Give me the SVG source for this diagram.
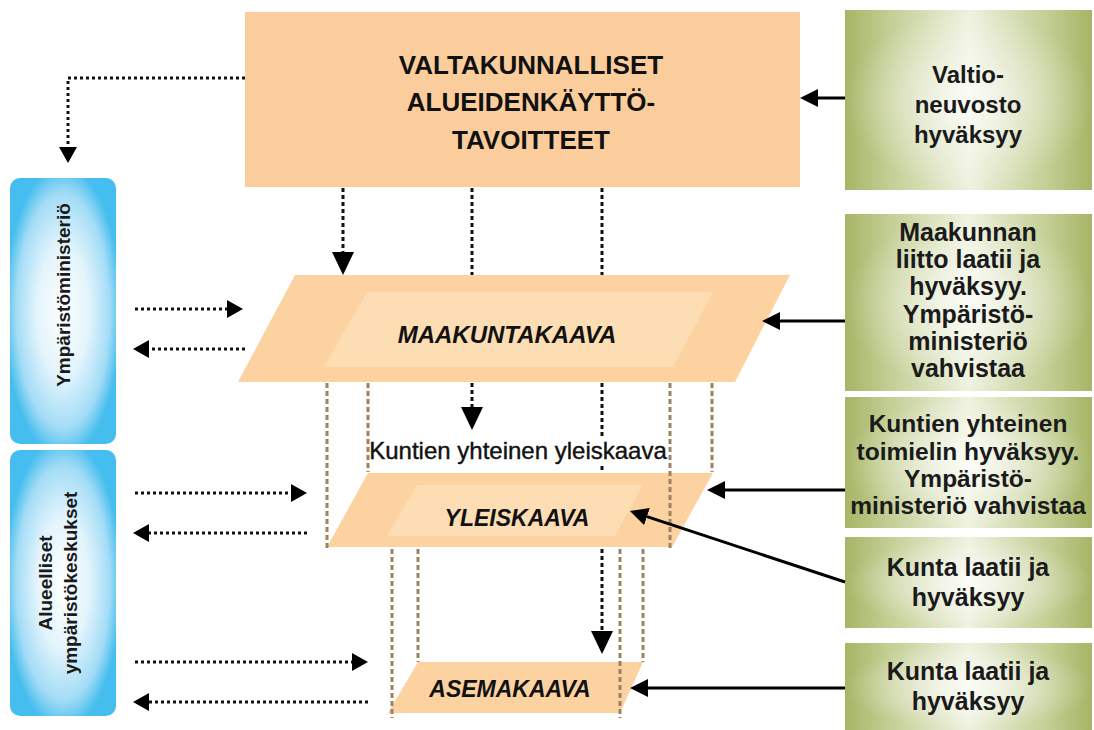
<svg xmlns="http://www.w3.org/2000/svg" width="1094" height="730" viewBox="0 0 1094 730">
<defs>
<style>
.title{font-family:"Liberation Sans",Arial,sans-serif;font-weight:bold;font-size:26px;fill:#111;text-anchor:middle}
.gt{font-family:"Liberation Sans",Arial,sans-serif;font-weight:bold;font-size:25px;fill:#1a1a1a;text-anchor:middle}
.bt{font-family:"Liberation Sans",Arial,sans-serif;font-weight:bold;font-size:19px;fill:#1a1a1a;text-anchor:middle}
.it{font-family:"Liberation Sans",Arial,sans-serif;font-weight:bold;font-style:italic;font-size:23px;fill:#111;text-anchor:middle}
.lbl{font-family:"Liberation Sans",Arial,sans-serif;font-size:24px;fill:#111;stroke:#111;stroke-width:0.4;text-anchor:middle}
.outer{fill:#FCD2A1}
.inner{fill:#FDDDB3}
.dot{fill:none;stroke:#111;stroke-width:3;stroke-dasharray:3 3}
.vdot{fill:none;stroke:#111;stroke-width:3;stroke-dasharray:4 3}
.solid{fill:none;stroke:#000;stroke-width:3}
.brown{fill:none;stroke:#9C8260;stroke-width:3;stroke-dasharray:5 3}
</style>
<linearGradient id="gLin" x1="0" y1="0" x2="1" y2="0">
<stop offset="0" stop-color="#A6B566"/>
<stop offset="0.18" stop-color="#C3CE94"/>
<stop offset="0.5" stop-color="#EEF2DF"/>
<stop offset="0.82" stop-color="#C3CE94"/>
<stop offset="1" stop-color="#A6B566"/>
</linearGradient>
<radialGradient id="gRad" cx="0.5" cy="0.5" r="0.5">
<stop offset="0" stop-color="#FFFFFF" stop-opacity="0.75"/>
<stop offset="1" stop-color="#FFFFFF" stop-opacity="0"/>
</radialGradient>
<radialGradient id="bRad" cx="0.5" cy="0.5" r="0.55">
<stop offset="0" stop-color="#FFFFFF"/>
<stop offset="0.45" stop-color="#E2F4FC"/>
<stop offset="0.8" stop-color="#A3DCF6"/>
<stop offset="1" stop-color="#45BDEE"/>
</radialGradient>
<marker id="aSolid" markerUnits="userSpaceOnUse" markerWidth="18" markerHeight="18" refX="0" refY="9" orient="auto">
<path d="M0,0 L18,9 L0,18 z" fill="#000"/>
</marker>
<marker id="aSmall" markerUnits="userSpaceOnUse" markerWidth="16" markerHeight="18" refX="0" refY="9" orient="auto">
<path d="M0,0 L16,9 L0,18 z" fill="#000"/>
</marker>
<marker id="aBig" markerUnits="userSpaceOnUse" markerWidth="23" markerHeight="22" refX="0" refY="11" orient="auto">
<path d="M0,0 L23,11 L0,22 z" fill="#000"/>
</marker>
</defs>
<rect width="1094" height="730" fill="#FFFFFF"/>

<g id="top-box">
<rect x="245" y="12" width="555" height="175" fill="#FCCD9C"/>
<text class="title" x="531" y="74">VALTAKUNNALLISET</text>
<text class="title" x="531" y="111">ALUEIDENKÄYTTÖ-</text>
<text class="title" x="531" y="149">TAVOITTEET</text>
</g>

<g id="ymparistoministerio">
<rect x="10" y="178" width="106" height="266" rx="10" fill="url(#bRad)"/>
<text class="bt" transform="translate(70,295) rotate(-90)">Ympäristöministeriö</text>
</g>
<g id="alueelliset">
<rect x="10" y="450" width="106" height="266" rx="10" fill="url(#bRad)"/>
<text class="bt" transform="translate(52,583) rotate(-90)">Alueelliset</text>
<text class="bt" transform="translate(77,583) rotate(-90)">ympäristökeskukset</text>
</g>

<g id="maakuntakaava">
<path class="outer" d="M295,275 L790,275 L735,382 L238,382 Z"/>
<path class="inner" d="M367,292 L713,292 L673,367 L324,367 Z"/>
<text class="it" x="507" y="343" style="font-size:24px">MAAKUNTAKAAVA</text>
</g>

<g id="yleiskaava">
<path class="outer" d="M368,473 L713,473 L672,547 L327,547 Z"/>
<path class="inner" d="M417,485 L643,485 L615,536 L387,536 Z"/>
<text class="it" x="517" y="526">YLEISKAAVA</text>
</g>

<g id="asemakaava">
<path class="outer" d="M418,662 L643,662 L620,713 L388,713 Z"/>
<text class="it" x="510" y="697">ASEMAKAAVA</text>
</g>

<g id="label-kuntien">
<text class="lbl" x="518" y="459">Kuntien yhteinen yleiskaava</text>
</g>

<g id="g-valtioneuvosto">
<rect x="845" y="10" width="247" height="180" fill="url(#gLin)"/>
<rect x="845" y="10" width="247" height="180" fill="url(#gRad)"/>
<text class="gt" x="968" y="83" style="font-size:24px">Valtio-</text>
<text class="gt" x="968" y="113" style="font-size:24px">neuvosto</text>
<text class="gt" x="968" y="143" style="font-size:24px">hyväksyy</text>
</g>
<g id="g-maakunnanliitto">
<rect x="845" y="214" width="247" height="177" fill="url(#gLin)"/>
<rect x="845" y="214" width="247" height="177" fill="url(#gRad)"/>
<text class="gt" x="968" y="241">Maakunnan</text>
<text class="gt" x="968" y="268">liitto laatii ja</text>
<text class="gt" x="968" y="295">hyväksyy.</text>
<text class="gt" x="968" y="323">Ympäristö-</text>
<text class="gt" x="968" y="350">ministeriö</text>
<text class="gt" x="968" y="377">vahvistaa</text>
</g>
<g id="g-kuntienyhteinen">
<rect x="845" y="397" width="247" height="131" fill="url(#gLin)"/>
<rect x="845" y="397" width="247" height="131" fill="url(#gRad)"/>
<text class="gt" x="968" y="432" style="font-size:24.5px">Kuntien yhteinen</text>
<text class="gt" x="968" y="460" style="font-size:24.5px">toimielin hyväksyy.</text>
<text class="gt" x="968" y="487" style="font-size:24.5px">Ympäristö-</text>
<text class="gt" x="968" y="514" style="font-size:24.5px">ministeriö vahvistaa</text>
</g>
<g id="g-kunta1">
<rect x="845" y="537" width="247" height="91" fill="url(#gLin)"/>
<rect x="845" y="537" width="247" height="91" fill="url(#gRad)"/>
<text class="gt" x="968" y="576">Kunta laatii ja</text>
<text class="gt" x="968" y="606">hyväksyy</text>
</g>
<g id="g-kunta2">
<rect x="845" y="643" width="247" height="87" fill="url(#gLin)"/>
<rect x="845" y="643" width="247" height="87" fill="url(#gRad)"/>
<text class="gt" x="968" y="680">Kunta laatii ja</text>
<text class="gt" x="968" y="710">hyväksyy</text>
</g>

<g id="connectors">
<path class="brown" d="M327,383 V548 M368,383 V472 M670,383 V548 M712,383 V472 M392,549 V718 M418,549 V662 M620,549 V718 M643,549 V662"/>
<path class="dot" d="M245,78 H68 V147" marker-end="url(#aSmall)"/>
<path class="dot" d="M135,309 H227" marker-end="url(#aSmall)"/>
<path class="dot" d="M245,349 H149" marker-end="url(#aSmall)"/>
<path class="dot" d="M135,493 H291" marker-end="url(#aSmall)"/>
<path class="dot" d="M307,533 H149" marker-end="url(#aSmall)"/>
<path class="dot" d="M135,662 H352" marker-end="url(#aSmall)"/>
<path class="dot" d="M368,702 H149" marker-end="url(#aSmall)"/>
<path class="vdot" d="M343,188 V252" marker-end="url(#aBig)"/>
<path class="vdot" d="M472,188 V275"/>
<path class="vdot" d="M472,383 V407" marker-end="url(#aBig)"/>
<path class="vdot" d="M602,188 V275"/>
<path class="vdot" d="M602,383 V437 M602,466 V472"/>
<path class="vdot" d="M602,549 V631" marker-end="url(#aBig)"/>
<path class="solid" d="M845,98 H818" marker-end="url(#aSolid)"/>
<path class="solid" d="M845,321 H780" marker-end="url(#aSolid)"/>
<path class="solid" d="M845,490 H725" marker-end="url(#aSolid)"/>
<path class="solid" d="M845,582 L647,516.6" marker-end="url(#aSolid)"/>
<path class="solid" d="M845,688 H648" marker-end="url(#aSolid)"/>
</g>
</svg>
